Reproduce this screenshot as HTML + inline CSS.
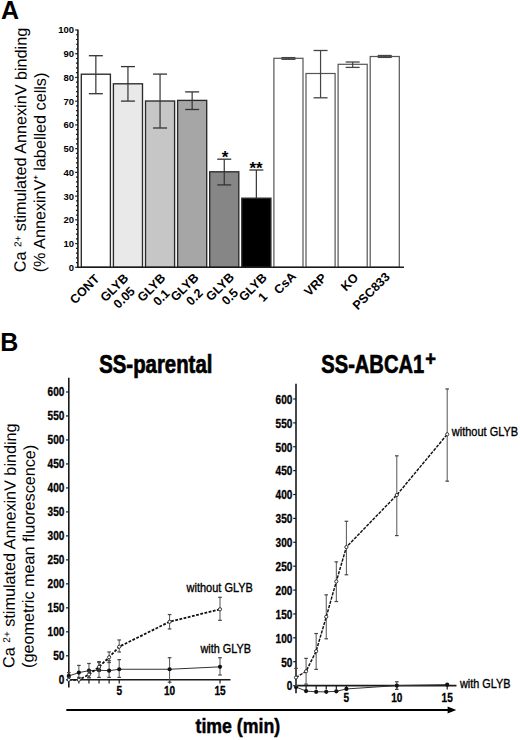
<!DOCTYPE html>
<html><head><meta charset="utf-8"><style>
html,body{margin:0;padding:0;background:#fff;}
svg{display:block;}
text{font-family:"Liberation Sans", sans-serif;fill:#000;}
</style></head><body>
<svg width="520" height="740" viewBox="0 0 520 740" font-family='"Liberation Sans", sans-serif'>
<rect width="520" height="740" fill="#fff"/>
<text x="1.0" y="18.9" font-size="25" font-weight="bold">A</text><text transform="translate(25.6,272.3) rotate(-89.75)" font-size="16.2">Ca <tspan font-size="10" dy="-4.4">2+</tspan><tspan dy="4.4"> stimulated AnnexinV binding</tspan></text><text transform="translate(44.9,272.3) rotate(-89.75)" font-size="16.2">(% AnnexinV<tspan font-size="7.5" font-weight="bold" dy="-7">+</tspan><tspan dy="7"> labelled cells)</tspan></text><line x1="77.9" y1="29.6" x2="77.9" y2="268.1" stroke="#1a1a1a" stroke-width="1.6"/><line x1="75.2" y1="267.30" x2="77.9" y2="267.30" stroke="#1a1a1a" stroke-width="1.2"/><text x="74.0" y="270.70" font-size="9.5" font-weight="bold" text-anchor="end">0</text><line x1="76.0" y1="262.55" x2="77.9" y2="262.55" stroke="#1a1a1a" stroke-width="1.2"/><line x1="76.0" y1="257.81" x2="77.9" y2="257.81" stroke="#1a1a1a" stroke-width="1.2"/><line x1="76.0" y1="253.06" x2="77.9" y2="253.06" stroke="#1a1a1a" stroke-width="1.2"/><line x1="76.0" y1="248.32" x2="77.9" y2="248.32" stroke="#1a1a1a" stroke-width="1.2"/><line x1="75.2" y1="243.57" x2="77.9" y2="243.57" stroke="#1a1a1a" stroke-width="1.2"/><text x="74.0" y="246.97" font-size="9.5" font-weight="bold" text-anchor="end">10</text><line x1="76.0" y1="238.82" x2="77.9" y2="238.82" stroke="#1a1a1a" stroke-width="1.2"/><line x1="76.0" y1="234.08" x2="77.9" y2="234.08" stroke="#1a1a1a" stroke-width="1.2"/><line x1="76.0" y1="229.33" x2="77.9" y2="229.33" stroke="#1a1a1a" stroke-width="1.2"/><line x1="76.0" y1="224.59" x2="77.9" y2="224.59" stroke="#1a1a1a" stroke-width="1.2"/><line x1="75.2" y1="219.84" x2="77.9" y2="219.84" stroke="#1a1a1a" stroke-width="1.2"/><text x="74.0" y="223.24" font-size="9.5" font-weight="bold" text-anchor="end">20</text><line x1="76.0" y1="215.09" x2="77.9" y2="215.09" stroke="#1a1a1a" stroke-width="1.2"/><line x1="76.0" y1="210.35" x2="77.9" y2="210.35" stroke="#1a1a1a" stroke-width="1.2"/><line x1="76.0" y1="205.60" x2="77.9" y2="205.60" stroke="#1a1a1a" stroke-width="1.2"/><line x1="76.0" y1="200.86" x2="77.9" y2="200.86" stroke="#1a1a1a" stroke-width="1.2"/><line x1="75.2" y1="196.11" x2="77.9" y2="196.11" stroke="#1a1a1a" stroke-width="1.2"/><text x="74.0" y="199.51" font-size="9.5" font-weight="bold" text-anchor="end">30</text><line x1="76.0" y1="191.36" x2="77.9" y2="191.36" stroke="#1a1a1a" stroke-width="1.2"/><line x1="76.0" y1="186.62" x2="77.9" y2="186.62" stroke="#1a1a1a" stroke-width="1.2"/><line x1="76.0" y1="181.87" x2="77.9" y2="181.87" stroke="#1a1a1a" stroke-width="1.2"/><line x1="76.0" y1="177.13" x2="77.9" y2="177.13" stroke="#1a1a1a" stroke-width="1.2"/><line x1="75.2" y1="172.38" x2="77.9" y2="172.38" stroke="#1a1a1a" stroke-width="1.2"/><text x="74.0" y="175.78" font-size="9.5" font-weight="bold" text-anchor="end">40</text><line x1="76.0" y1="167.63" x2="77.9" y2="167.63" stroke="#1a1a1a" stroke-width="1.2"/><line x1="76.0" y1="162.89" x2="77.9" y2="162.89" stroke="#1a1a1a" stroke-width="1.2"/><line x1="76.0" y1="158.14" x2="77.9" y2="158.14" stroke="#1a1a1a" stroke-width="1.2"/><line x1="76.0" y1="153.40" x2="77.9" y2="153.40" stroke="#1a1a1a" stroke-width="1.2"/><line x1="75.2" y1="148.65" x2="77.9" y2="148.65" stroke="#1a1a1a" stroke-width="1.2"/><text x="74.0" y="152.05" font-size="9.5" font-weight="bold" text-anchor="end">50</text><line x1="76.0" y1="143.90" x2="77.9" y2="143.90" stroke="#1a1a1a" stroke-width="1.2"/><line x1="76.0" y1="139.16" x2="77.9" y2="139.16" stroke="#1a1a1a" stroke-width="1.2"/><line x1="76.0" y1="134.41" x2="77.9" y2="134.41" stroke="#1a1a1a" stroke-width="1.2"/><line x1="76.0" y1="129.67" x2="77.9" y2="129.67" stroke="#1a1a1a" stroke-width="1.2"/><line x1="75.2" y1="124.92" x2="77.9" y2="124.92" stroke="#1a1a1a" stroke-width="1.2"/><text x="74.0" y="128.32" font-size="9.5" font-weight="bold" text-anchor="end">60</text><line x1="76.0" y1="120.17" x2="77.9" y2="120.17" stroke="#1a1a1a" stroke-width="1.2"/><line x1="76.0" y1="115.43" x2="77.9" y2="115.43" stroke="#1a1a1a" stroke-width="1.2"/><line x1="76.0" y1="110.68" x2="77.9" y2="110.68" stroke="#1a1a1a" stroke-width="1.2"/><line x1="76.0" y1="105.94" x2="77.9" y2="105.94" stroke="#1a1a1a" stroke-width="1.2"/><line x1="75.2" y1="101.19" x2="77.9" y2="101.19" stroke="#1a1a1a" stroke-width="1.2"/><text x="74.0" y="104.59" font-size="9.5" font-weight="bold" text-anchor="end">70</text><line x1="76.0" y1="96.44" x2="77.9" y2="96.44" stroke="#1a1a1a" stroke-width="1.2"/><line x1="76.0" y1="91.70" x2="77.9" y2="91.70" stroke="#1a1a1a" stroke-width="1.2"/><line x1="76.0" y1="86.95" x2="77.9" y2="86.95" stroke="#1a1a1a" stroke-width="1.2"/><line x1="76.0" y1="82.21" x2="77.9" y2="82.21" stroke="#1a1a1a" stroke-width="1.2"/><line x1="75.2" y1="77.46" x2="77.9" y2="77.46" stroke="#1a1a1a" stroke-width="1.2"/><text x="74.0" y="80.86" font-size="9.5" font-weight="bold" text-anchor="end">80</text><line x1="76.0" y1="72.71" x2="77.9" y2="72.71" stroke="#1a1a1a" stroke-width="1.2"/><line x1="76.0" y1="67.97" x2="77.9" y2="67.97" stroke="#1a1a1a" stroke-width="1.2"/><line x1="76.0" y1="63.22" x2="77.9" y2="63.22" stroke="#1a1a1a" stroke-width="1.2"/><line x1="76.0" y1="58.48" x2="77.9" y2="58.48" stroke="#1a1a1a" stroke-width="1.2"/><line x1="75.2" y1="53.73" x2="77.9" y2="53.73" stroke="#1a1a1a" stroke-width="1.2"/><text x="74.0" y="57.13" font-size="9.5" font-weight="bold" text-anchor="end">90</text><line x1="76.0" y1="48.98" x2="77.9" y2="48.98" stroke="#1a1a1a" stroke-width="1.2"/><line x1="76.0" y1="44.24" x2="77.9" y2="44.24" stroke="#1a1a1a" stroke-width="1.2"/><line x1="76.0" y1="39.49" x2="77.9" y2="39.49" stroke="#1a1a1a" stroke-width="1.2"/><line x1="76.0" y1="34.75" x2="77.9" y2="34.75" stroke="#1a1a1a" stroke-width="1.2"/><line x1="75.2" y1="30.00" x2="77.9" y2="30.00" stroke="#1a1a1a" stroke-width="1.2"/><text x="74.0" y="33.40" font-size="9.5" font-weight="bold" text-anchor="end">100</text><rect x="81.30" y="74.20" width="29.10" height="193.10" fill="#ffffff" stroke="#2a2a2a" stroke-width="1.35"/><rect x="113.40" y="83.80" width="29.10" height="183.50" fill="#e9e9e9" stroke="#2a2a2a" stroke-width="1.35"/><rect x="145.50" y="101.00" width="29.10" height="166.30" fill="#c6c6c6" stroke="#2a2a2a" stroke-width="1.35"/><rect x="177.60" y="100.40" width="29.10" height="166.90" fill="#a6a6a6" stroke="#2a2a2a" stroke-width="1.35"/><rect x="209.70" y="171.80" width="29.10" height="95.50" fill="#868686" stroke="#2a2a2a" stroke-width="1.35"/><rect x="241.80" y="198.20" width="29.10" height="69.10" fill="#000000" stroke="#2a2a2a" stroke-width="1.35"/><rect x="273.90" y="58.30" width="29.10" height="209.00" fill="#ffffff" stroke="#555" stroke-width="1.2"/><rect x="306.00" y="73.50" width="29.10" height="193.80" fill="#ffffff" stroke="#555" stroke-width="1.2"/><rect x="338.10" y="64.30" width="29.10" height="203.00" fill="#ffffff" stroke="#555" stroke-width="1.2"/><rect x="370.20" y="56.50" width="29.10" height="210.80" fill="#ffffff" stroke="#555" stroke-width="1.2"/><line x1="95.85" y1="55.7" x2="95.85" y2="93.7" stroke="#333" stroke-width="1.2"/><line x1="88.85" y1="55.7" x2="102.85" y2="55.7" stroke="#333" stroke-width="1.3"/><line x1="88.85" y1="93.7" x2="102.85" y2="93.7" stroke="#333" stroke-width="1.3"/><line x1="127.95" y1="66.6" x2="127.95" y2="101.1" stroke="#333" stroke-width="1.2"/><line x1="120.95" y1="66.6" x2="134.95" y2="66.6" stroke="#333" stroke-width="1.3"/><line x1="120.95" y1="101.1" x2="134.95" y2="101.1" stroke="#333" stroke-width="1.3"/><line x1="160.05" y1="74.1" x2="160.05" y2="128.0" stroke="#333" stroke-width="1.2"/><line x1="153.05" y1="74.1" x2="167.05" y2="74.1" stroke="#333" stroke-width="1.3"/><line x1="153.05" y1="128.0" x2="167.05" y2="128.0" stroke="#333" stroke-width="1.3"/><line x1="192.15" y1="91.9" x2="192.15" y2="109.5" stroke="#333" stroke-width="1.2"/><line x1="185.15" y1="91.9" x2="199.15" y2="91.9" stroke="#333" stroke-width="1.3"/><line x1="185.15" y1="109.5" x2="199.15" y2="109.5" stroke="#333" stroke-width="1.3"/><line x1="224.25" y1="159.2" x2="224.25" y2="184.9" stroke="#333" stroke-width="1.2"/><line x1="217.25" y1="159.2" x2="231.25" y2="159.2" stroke="#333" stroke-width="1.3"/><line x1="217.25" y1="184.9" x2="231.25" y2="184.9" stroke="#333" stroke-width="1.3"/><line x1="256.35" y1="170.0" x2="256.35" y2="198.2" stroke="#333" stroke-width="1.2"/><line x1="249.35" y1="170.0" x2="263.35" y2="170.0" stroke="#333" stroke-width="1.3"/><line x1="288.45" y1="57.6" x2="288.45" y2="59.3" stroke="#444" stroke-width="1.2"/><line x1="281.45" y1="57.6" x2="295.45" y2="57.6" stroke="#444" stroke-width="1.3"/><line x1="281.45" y1="59.3" x2="295.45" y2="59.3" stroke="#444" stroke-width="1.3"/><line x1="320.55" y1="50.5" x2="320.55" y2="97.8" stroke="#444" stroke-width="1.2"/><line x1="313.55" y1="50.5" x2="327.55" y2="50.5" stroke="#444" stroke-width="1.3"/><line x1="313.55" y1="97.8" x2="327.55" y2="97.8" stroke="#444" stroke-width="1.3"/><line x1="352.65" y1="62.0" x2="352.65" y2="67.4" stroke="#444" stroke-width="1.2"/><line x1="345.65" y1="62.0" x2="359.65" y2="62.0" stroke="#444" stroke-width="1.3"/><line x1="345.65" y1="67.4" x2="359.65" y2="67.4" stroke="#444" stroke-width="1.3"/><line x1="384.75" y1="55.5" x2="384.75" y2="57.4" stroke="#444" stroke-width="1.2"/><line x1="377.75" y1="55.5" x2="391.75" y2="55.5" stroke="#444" stroke-width="1.3"/><line x1="377.75" y1="57.4" x2="391.75" y2="57.4" stroke="#444" stroke-width="1.3"/><line x1="77.10000000000001" y1="267.3" x2="404" y2="267.3" stroke="#1a1a1a" stroke-width="1.6"/><text x="225.1" y="162.8" font-size="17" font-weight="bold" text-anchor="middle">*</text><text x="256.0" y="173.5" font-size="17" font-weight="bold" text-anchor="middle">**</text><g transform="translate(100.1,279.7) rotate(-45)" font-size="12.5" font-weight="bold"><text x="0" y="0" text-anchor="end">CONT</text></g><g transform="translate(129.15,278.85) rotate(-45)" font-size="12.5" font-weight="bold"><text x="0" y="0" text-anchor="end">GLYB</text><text x="-16.79" y="14" text-anchor="middle">0.05</text></g><g transform="translate(166.25,278.65) rotate(-45)" font-size="12.5" font-weight="bold"><text x="0" y="0" text-anchor="end">GLYB</text><text x="-16.79" y="14" text-anchor="middle">0.1</text></g><g transform="translate(199.4,278.3) rotate(-45)" font-size="12.5" font-weight="bold"><text x="0" y="0" text-anchor="end">GLYB</text><text x="-16.79" y="14" text-anchor="middle">0.2</text></g><g transform="translate(234.85,277.9) rotate(-45)" font-size="12.5" font-weight="bold"><text x="0" y="0" text-anchor="end">GLYB</text><text x="-16.79" y="14" text-anchor="middle">0.5</text></g><g transform="translate(267.65,278.3) rotate(-45)" font-size="12.5" font-weight="bold"><text x="0" y="0" text-anchor="end">GLYB</text><text x="-16.79" y="14" text-anchor="middle">1</text></g><g transform="translate(296.8,277.2) rotate(-45)" font-size="12.5" font-weight="bold"><text x="0" y="0" text-anchor="end">CsA</text></g><g transform="translate(327.5,278.65) rotate(-45)" font-size="12.5" font-weight="bold"><text x="0" y="0" text-anchor="end">VRP</text></g><g transform="translate(359.25,278.45) rotate(-45)" font-size="12.5" font-weight="bold"><text x="0" y="0" text-anchor="end">KO</text></g><g transform="translate(390.65,277.55) rotate(-45)" font-size="12.5" font-weight="bold"><text x="0" y="0" text-anchor="end">PSC833</text></g><text x="0.3" y="351.3" font-size="25" font-weight="bold">B</text><text transform="translate(14.3,667.9) rotate(-89.58)" font-size="16.2">Ca <tspan font-size="10" dy="-4.4">2+</tspan><tspan dy="4.4"> stimulated AnnexinV binding</tspan></text><text transform="translate(33.4,667.9) rotate(-89.58)" font-size="16.2">(geometric mean fluorescence)</text><text transform="translate(99.2,372.7) scale(0.815,1)" font-size="25" font-weight="bold" text-anchor="start" stroke="#000" stroke-width="0.7">SS-parental</text><text transform="translate(321.3,372.7) scale(0.805,1)" font-size="25" font-weight="bold" text-anchor="start" stroke="#000" stroke-width="0.7">SS-ABCA1</text><text transform="translate(425.2,365.6) scale(0.92,1)" font-size="20" font-weight="bold" text-anchor="start" stroke="#000" stroke-width="0.6">+</text><line x1="68.8" y1="377.7" x2="68.8" y2="687.5" stroke="#1a1a1a" stroke-width="1.6"/><line x1="66.0" y1="679.80" x2="68.8" y2="679.80" stroke="#1a1a1a" stroke-width="1.2"/><text transform="translate(64.4,684.0) scale(0.84,1)" font-size="12" font-weight="bold" text-anchor="end" stroke="#000" stroke-width="0.3">0</text><line x1="66.0" y1="655.81" x2="68.8" y2="655.81" stroke="#1a1a1a" stroke-width="1.2"/><text transform="translate(64.4,660.01) scale(0.84,1)" font-size="12" font-weight="bold" text-anchor="end" stroke="#000" stroke-width="0.3">50</text><line x1="66.0" y1="631.83" x2="68.8" y2="631.83" stroke="#1a1a1a" stroke-width="1.2"/><text transform="translate(64.4,636.03) scale(0.84,1)" font-size="12" font-weight="bold" text-anchor="end" stroke="#000" stroke-width="0.3">100</text><line x1="66.0" y1="607.84" x2="68.8" y2="607.84" stroke="#1a1a1a" stroke-width="1.2"/><text transform="translate(64.4,612.04) scale(0.84,1)" font-size="12" font-weight="bold" text-anchor="end" stroke="#000" stroke-width="0.3">150</text><line x1="66.0" y1="583.86" x2="68.8" y2="583.86" stroke="#1a1a1a" stroke-width="1.2"/><text transform="translate(64.4,588.06) scale(0.84,1)" font-size="12" font-weight="bold" text-anchor="end" stroke="#000" stroke-width="0.3">200</text><line x1="66.0" y1="559.88" x2="68.8" y2="559.88" stroke="#1a1a1a" stroke-width="1.2"/><text transform="translate(64.4,564.08) scale(0.84,1)" font-size="12" font-weight="bold" text-anchor="end" stroke="#000" stroke-width="0.3">250</text><line x1="66.0" y1="535.89" x2="68.8" y2="535.89" stroke="#1a1a1a" stroke-width="1.2"/><text transform="translate(64.4,540.09) scale(0.84,1)" font-size="12" font-weight="bold" text-anchor="end" stroke="#000" stroke-width="0.3">300</text><line x1="66.0" y1="511.90" x2="68.8" y2="511.90" stroke="#1a1a1a" stroke-width="1.2"/><text transform="translate(64.4,516.11) scale(0.84,1)" font-size="12" font-weight="bold" text-anchor="end" stroke="#000" stroke-width="0.3">350</text><line x1="66.0" y1="487.92" x2="68.8" y2="487.92" stroke="#1a1a1a" stroke-width="1.2"/><text transform="translate(64.4,492.12) scale(0.84,1)" font-size="12" font-weight="bold" text-anchor="end" stroke="#000" stroke-width="0.3">400</text><line x1="66.0" y1="463.93" x2="68.8" y2="463.93" stroke="#1a1a1a" stroke-width="1.2"/><text transform="translate(64.4,468.13) scale(0.84,1)" font-size="12" font-weight="bold" text-anchor="end" stroke="#000" stroke-width="0.3">450</text><line x1="66.0" y1="439.95" x2="68.8" y2="439.95" stroke="#1a1a1a" stroke-width="1.2"/><text transform="translate(64.4,444.15) scale(0.84,1)" font-size="12" font-weight="bold" text-anchor="end" stroke="#000" stroke-width="0.3">500</text><line x1="66.0" y1="415.96" x2="68.8" y2="415.96" stroke="#1a1a1a" stroke-width="1.2"/><text transform="translate(64.4,420.16) scale(0.84,1)" font-size="12" font-weight="bold" text-anchor="end" stroke="#000" stroke-width="0.3">550</text><line x1="66.0" y1="391.98" x2="68.8" y2="391.98" stroke="#1a1a1a" stroke-width="1.2"/><text transform="translate(64.4,396.18) scale(0.84,1)" font-size="12" font-weight="bold" text-anchor="end" stroke="#000" stroke-width="0.3">600</text><line x1="68.0" y1="679.8" x2="230.5" y2="679.8" stroke="#1a1a1a" stroke-width="1.6"/><line x1="78.88" y1="679.8" x2="78.88" y2="683.5999999999999" stroke="#1a1a1a" stroke-width="1.2"/><line x1="88.96" y1="679.8" x2="88.96" y2="683.5999999999999" stroke="#1a1a1a" stroke-width="1.2"/><line x1="99.04" y1="679.8" x2="99.04" y2="683.5999999999999" stroke="#1a1a1a" stroke-width="1.2"/><line x1="109.12" y1="679.8" x2="109.12" y2="683.5999999999999" stroke="#1a1a1a" stroke-width="1.2"/><line x1="119.20" y1="679.8" x2="119.20" y2="683.5999999999999" stroke="#1a1a1a" stroke-width="1.2"/><line x1="169.60" y1="679.8" x2="169.60" y2="683.5999999999999" stroke="#1a1a1a" stroke-width="1.2"/><line x1="220.00" y1="679.8" x2="220.00" y2="683.5999999999999" stroke="#1a1a1a" stroke-width="1.2"/><text transform="translate(119.2,694.6) scale(0.84,1)" font-size="12" font-weight="bold" text-anchor="middle" stroke="#000" stroke-width="0.3">5</text><text transform="translate(169.6,694.6) scale(0.84,1)" font-size="12" font-weight="bold" text-anchor="middle" stroke="#000" stroke-width="0.3">10</text><text transform="translate(220.0,694.6) scale(0.84,1)" font-size="12" font-weight="bold" text-anchor="middle" stroke="#000" stroke-width="0.3">15</text><line x1="68.80" y1="672.60" x2="68.80" y2="679.80" stroke="#555" stroke-width="1"/><line x1="67.00" y1="672.60" x2="70.60" y2="672.60" stroke="#444" stroke-width="1.2"/><line x1="67.00" y1="679.80" x2="70.60" y2="679.80" stroke="#444" stroke-width="1.2"/><line x1="78.88" y1="665.41" x2="78.88" y2="677.40" stroke="#555" stroke-width="1"/><line x1="77.08" y1="665.41" x2="80.68" y2="665.41" stroke="#444" stroke-width="1.2"/><line x1="77.08" y1="677.40" x2="80.68" y2="677.40" stroke="#444" stroke-width="1.2"/><line x1="88.96" y1="663.49" x2="88.96" y2="677.40" stroke="#555" stroke-width="1"/><line x1="87.16" y1="663.49" x2="90.76" y2="663.49" stroke="#444" stroke-width="1.2"/><line x1="87.16" y1="677.40" x2="90.76" y2="677.40" stroke="#444" stroke-width="1.2"/><line x1="99.04" y1="661.57" x2="99.04" y2="677.40" stroke="#555" stroke-width="1"/><line x1="97.24" y1="661.57" x2="100.84" y2="661.57" stroke="#444" stroke-width="1.2"/><line x1="97.24" y1="677.40" x2="100.84" y2="677.40" stroke="#444" stroke-width="1.2"/><line x1="109.12" y1="660.61" x2="109.12" y2="677.40" stroke="#555" stroke-width="1"/><line x1="107.32" y1="660.61" x2="110.92" y2="660.61" stroke="#444" stroke-width="1.2"/><line x1="107.32" y1="677.40" x2="110.92" y2="677.40" stroke="#444" stroke-width="1.2"/><line x1="119.20" y1="659.65" x2="119.20" y2="677.40" stroke="#555" stroke-width="1"/><line x1="117.40" y1="659.65" x2="121.00" y2="659.65" stroke="#444" stroke-width="1.2"/><line x1="117.40" y1="677.40" x2="121.00" y2="677.40" stroke="#444" stroke-width="1.2"/><line x1="169.60" y1="657.73" x2="169.60" y2="682.20" stroke="#555" stroke-width="1"/><line x1="167.80" y1="657.73" x2="171.40" y2="657.73" stroke="#444" stroke-width="1.2"/><line x1="167.80" y1="682.20" x2="171.40" y2="682.20" stroke="#444" stroke-width="1.2"/><line x1="220.00" y1="657.73" x2="220.00" y2="675.00" stroke="#555" stroke-width="1"/><line x1="218.20" y1="657.73" x2="221.80" y2="657.73" stroke="#444" stroke-width="1.2"/><line x1="218.20" y1="675.00" x2="221.80" y2="675.00" stroke="#444" stroke-width="1.2"/><path d="M68.80,675.96 L78.88,672.60 L88.96,670.69 L99.04,670.21 L109.12,670.69 L119.20,669.25 L169.60,669.25 L220.00,666.85" fill="none" stroke="#333" stroke-width="1"/><circle cx="68.80" cy="675.96" r="2.1" fill="#111"/><circle cx="78.88" cy="672.60" r="2.1" fill="#111"/><circle cx="88.96" cy="670.69" r="2.1" fill="#111"/><circle cx="99.04" cy="670.21" r="2.1" fill="#111"/><circle cx="109.12" cy="670.69" r="2.1" fill="#111"/><circle cx="119.20" cy="669.25" r="2.1" fill="#111"/><circle cx="169.60" cy="669.25" r="2.1" fill="#111"/><circle cx="220.00" cy="666.85" r="2.1" fill="#111"/><line x1="68.80" y1="677.40" x2="68.80" y2="679.80" stroke="#555" stroke-width="1"/><line x1="67.00" y1="677.40" x2="70.60" y2="677.40" stroke="#444" stroke-width="1.2"/><line x1="67.00" y1="679.80" x2="70.60" y2="679.80" stroke="#444" stroke-width="1.2"/><line x1="78.88" y1="677.88" x2="78.88" y2="679.80" stroke="#555" stroke-width="1"/><line x1="77.08" y1="677.88" x2="80.68" y2="677.88" stroke="#444" stroke-width="1.2"/><line x1="77.08" y1="679.80" x2="80.68" y2="679.80" stroke="#444" stroke-width="1.2"/><line x1="88.96" y1="671.17" x2="88.96" y2="677.88" stroke="#555" stroke-width="1"/><line x1="87.16" y1="671.17" x2="90.76" y2="671.17" stroke="#444" stroke-width="1.2"/><line x1="87.16" y1="677.88" x2="90.76" y2="677.88" stroke="#444" stroke-width="1.2"/><line x1="99.04" y1="662.53" x2="99.04" y2="671.17" stroke="#555" stroke-width="1"/><line x1="97.24" y1="662.53" x2="100.84" y2="662.53" stroke="#444" stroke-width="1.2"/><line x1="97.24" y1="671.17" x2="100.84" y2="671.17" stroke="#444" stroke-width="1.2"/><line x1="109.12" y1="651.98" x2="109.12" y2="662.53" stroke="#555" stroke-width="1"/><line x1="107.32" y1="651.98" x2="110.92" y2="651.98" stroke="#444" stroke-width="1.2"/><line x1="107.32" y1="662.53" x2="110.92" y2="662.53" stroke="#444" stroke-width="1.2"/><line x1="119.20" y1="639.98" x2="119.20" y2="651.98" stroke="#555" stroke-width="1"/><line x1="117.40" y1="639.98" x2="121.00" y2="639.98" stroke="#444" stroke-width="1.2"/><line x1="117.40" y1="651.98" x2="121.00" y2="651.98" stroke="#444" stroke-width="1.2"/><line x1="169.60" y1="614.56" x2="169.60" y2="628.95" stroke="#555" stroke-width="1"/><line x1="167.80" y1="614.56" x2="171.40" y2="614.56" stroke="#444" stroke-width="1.2"/><line x1="167.80" y1="628.95" x2="171.40" y2="628.95" stroke="#444" stroke-width="1.2"/><line x1="220.00" y1="597.29" x2="220.00" y2="620.32" stroke="#555" stroke-width="1"/><line x1="218.20" y1="597.29" x2="221.80" y2="597.29" stroke="#444" stroke-width="1.2"/><line x1="218.20" y1="620.32" x2="221.80" y2="620.32" stroke="#444" stroke-width="1.2"/><path d="M68.80,679.80 L78.88,679.80 L88.96,674.52 L99.04,666.85 L109.12,657.25 L119.20,646.70 L169.60,621.76 L220.00,609.28" fill="none" stroke="#111" stroke-width="1.8" stroke-dasharray="2.8,1.5"/><circle cx="68.80" cy="679.80" r="1.6" fill="#fff" stroke="#222" stroke-width="0.9"/><circle cx="78.88" cy="679.80" r="1.6" fill="#fff" stroke="#222" stroke-width="0.9"/><circle cx="88.96" cy="674.52" r="1.6" fill="#fff" stroke="#222" stroke-width="0.9"/><circle cx="99.04" cy="666.85" r="1.6" fill="#fff" stroke="#222" stroke-width="0.9"/><circle cx="109.12" cy="657.25" r="1.6" fill="#fff" stroke="#222" stroke-width="0.9"/><circle cx="119.20" cy="646.70" r="1.6" fill="#fff" stroke="#222" stroke-width="0.9"/><circle cx="169.60" cy="621.76" r="1.6" fill="#fff" stroke="#222" stroke-width="0.9"/><circle cx="220.00" cy="609.28" r="1.6" fill="#fff" stroke="#222" stroke-width="0.9"/><text transform="translate(186.6,591.8) scale(0.915,1)" font-size="12" font-weight="normal" text-anchor="start" stroke="#000" stroke-width="0.35">without GLYB</text><text transform="translate(200.4,653.4) scale(0.905,1)" font-size="12" font-weight="normal" text-anchor="start" stroke="#000" stroke-width="0.35">with GLYB</text><line x1="296.0" y1="383.7" x2="296.0" y2="693.2" stroke="#1a1a1a" stroke-width="1.6"/><line x1="293.2" y1="685.60" x2="296.0" y2="685.60" stroke="#1a1a1a" stroke-width="1.2"/><text transform="translate(292.4,690.4) scale(0.84,1)" font-size="12" font-weight="bold" text-anchor="end" stroke="#000" stroke-width="0.3">0</text><line x1="293.2" y1="661.72" x2="296.0" y2="661.72" stroke="#1a1a1a" stroke-width="1.2"/><text transform="translate(292.4,666.51) scale(0.84,1)" font-size="12" font-weight="bold" text-anchor="end" stroke="#000" stroke-width="0.3">50</text><line x1="293.2" y1="637.83" x2="296.0" y2="637.83" stroke="#1a1a1a" stroke-width="1.2"/><text transform="translate(292.4,642.63) scale(0.84,1)" font-size="12" font-weight="bold" text-anchor="end" stroke="#000" stroke-width="0.3">100</text><line x1="293.2" y1="613.95" x2="296.0" y2="613.95" stroke="#1a1a1a" stroke-width="1.2"/><text transform="translate(292.4,618.75) scale(0.84,1)" font-size="12" font-weight="bold" text-anchor="end" stroke="#000" stroke-width="0.3">150</text><line x1="293.2" y1="590.06" x2="296.0" y2="590.06" stroke="#1a1a1a" stroke-width="1.2"/><text transform="translate(292.4,594.86) scale(0.84,1)" font-size="12" font-weight="bold" text-anchor="end" stroke="#000" stroke-width="0.3">200</text><line x1="293.2" y1="566.18" x2="296.0" y2="566.18" stroke="#1a1a1a" stroke-width="1.2"/><text transform="translate(292.4,570.98) scale(0.84,1)" font-size="12" font-weight="bold" text-anchor="end" stroke="#000" stroke-width="0.3">250</text><line x1="293.2" y1="542.29" x2="296.0" y2="542.29" stroke="#1a1a1a" stroke-width="1.2"/><text transform="translate(292.4,547.09) scale(0.84,1)" font-size="12" font-weight="bold" text-anchor="end" stroke="#000" stroke-width="0.3">300</text><line x1="293.2" y1="518.40" x2="296.0" y2="518.40" stroke="#1a1a1a" stroke-width="1.2"/><text transform="translate(292.4,523.2) scale(0.84,1)" font-size="12" font-weight="bold" text-anchor="end" stroke="#000" stroke-width="0.3">350</text><line x1="293.2" y1="494.52" x2="296.0" y2="494.52" stroke="#1a1a1a" stroke-width="1.2"/><text transform="translate(292.4,499.32) scale(0.84,1)" font-size="12" font-weight="bold" text-anchor="end" stroke="#000" stroke-width="0.3">400</text><line x1="293.2" y1="470.63" x2="296.0" y2="470.63" stroke="#1a1a1a" stroke-width="1.2"/><text transform="translate(292.4,475.44) scale(0.84,1)" font-size="12" font-weight="bold" text-anchor="end" stroke="#000" stroke-width="0.3">450</text><line x1="293.2" y1="446.75" x2="296.0" y2="446.75" stroke="#1a1a1a" stroke-width="1.2"/><text transform="translate(292.4,451.55) scale(0.84,1)" font-size="12" font-weight="bold" text-anchor="end" stroke="#000" stroke-width="0.3">500</text><line x1="293.2" y1="422.87" x2="296.0" y2="422.87" stroke="#1a1a1a" stroke-width="1.2"/><text transform="translate(292.4,427.67) scale(0.84,1)" font-size="12" font-weight="bold" text-anchor="end" stroke="#000" stroke-width="0.3">550</text><line x1="293.2" y1="398.98" x2="296.0" y2="398.98" stroke="#1a1a1a" stroke-width="1.2"/><text transform="translate(292.4,403.78) scale(0.84,1)" font-size="12" font-weight="bold" text-anchor="end" stroke="#000" stroke-width="0.3">600</text><line x1="295.2" y1="685.6" x2="456.5" y2="685.6" stroke="#1a1a1a" stroke-width="1.6"/><line x1="306.08" y1="685.6" x2="306.08" y2="689.4" stroke="#1a1a1a" stroke-width="1.2"/><line x1="316.16" y1="685.6" x2="316.16" y2="689.4" stroke="#1a1a1a" stroke-width="1.2"/><line x1="326.24" y1="685.6" x2="326.24" y2="689.4" stroke="#1a1a1a" stroke-width="1.2"/><line x1="336.32" y1="685.6" x2="336.32" y2="689.4" stroke="#1a1a1a" stroke-width="1.2"/><line x1="346.40" y1="685.6" x2="346.40" y2="689.4" stroke="#1a1a1a" stroke-width="1.2"/><line x1="396.80" y1="685.6" x2="396.80" y2="689.4" stroke="#1a1a1a" stroke-width="1.2"/><line x1="447.20" y1="685.6" x2="447.20" y2="689.4" stroke="#1a1a1a" stroke-width="1.2"/><text transform="translate(346.4,701.6) scale(0.84,1)" font-size="12" font-weight="bold" text-anchor="middle" stroke="#000" stroke-width="0.3">5</text><text transform="translate(396.8,701.6) scale(0.84,1)" font-size="12" font-weight="bold" text-anchor="middle" stroke="#000" stroke-width="0.3">10</text><text transform="translate(447.2,701.6) scale(0.84,1)" font-size="12" font-weight="bold" text-anchor="middle" stroke="#000" stroke-width="0.3">15</text><line x1="396.80" y1="681.78" x2="396.80" y2="689.42" stroke="#555" stroke-width="1"/><line x1="395.00" y1="681.78" x2="398.60" y2="681.78" stroke="#444" stroke-width="1.2"/><line x1="395.00" y1="689.42" x2="398.60" y2="689.42" stroke="#444" stroke-width="1.2"/><path d="M296.00,687.03 L306.08,691.09 L316.16,691.81 L326.24,691.81 L336.32,691.33 L346.40,688.94 L396.80,685.60 L447.20,684.64" fill="none" stroke="#333" stroke-width="1"/><circle cx="296.00" cy="687.03" r="2.1" fill="#111"/><circle cx="306.08" cy="691.09" r="2.1" fill="#111"/><circle cx="316.16" cy="691.81" r="2.1" fill="#111"/><circle cx="326.24" cy="691.81" r="2.1" fill="#111"/><circle cx="336.32" cy="691.33" r="2.1" fill="#111"/><circle cx="346.40" cy="688.94" r="2.1" fill="#111"/><circle cx="396.80" cy="685.60" r="2.1" fill="#111"/><circle cx="447.20" cy="684.64" r="2.1" fill="#111"/><line x1="296.00" y1="668.40" x2="296.00" y2="685.60" stroke="#555" stroke-width="1"/><line x1="294.20" y1="668.40" x2="297.80" y2="668.40" stroke="#444" stroke-width="1.2"/><line x1="294.20" y1="685.60" x2="297.80" y2="685.60" stroke="#444" stroke-width="1.2"/><line x1="306.08" y1="658.37" x2="306.08" y2="684.17" stroke="#555" stroke-width="1"/><line x1="304.28" y1="658.37" x2="307.88" y2="658.37" stroke="#444" stroke-width="1.2"/><line x1="304.28" y1="684.17" x2="307.88" y2="684.17" stroke="#444" stroke-width="1.2"/><line x1="316.16" y1="633.53" x2="316.16" y2="669.36" stroke="#555" stroke-width="1"/><line x1="314.36" y1="633.53" x2="317.96" y2="633.53" stroke="#444" stroke-width="1.2"/><line x1="314.36" y1="669.36" x2="317.96" y2="669.36" stroke="#444" stroke-width="1.2"/><line x1="326.24" y1="594.84" x2="326.24" y2="638.79" stroke="#555" stroke-width="1"/><line x1="324.44" y1="594.84" x2="328.04" y2="594.84" stroke="#444" stroke-width="1.2"/><line x1="324.44" y1="638.79" x2="328.04" y2="638.79" stroke="#444" stroke-width="1.2"/><line x1="336.32" y1="561.88" x2="336.32" y2="601.52" stroke="#555" stroke-width="1"/><line x1="334.52" y1="561.88" x2="338.12" y2="561.88" stroke="#444" stroke-width="1.2"/><line x1="334.52" y1="601.52" x2="338.12" y2="601.52" stroke="#444" stroke-width="1.2"/><line x1="346.40" y1="521.27" x2="346.40" y2="574.77" stroke="#555" stroke-width="1"/><line x1="344.60" y1="521.27" x2="348.20" y2="521.27" stroke="#444" stroke-width="1.2"/><line x1="344.60" y1="574.77" x2="348.20" y2="574.77" stroke="#444" stroke-width="1.2"/><line x1="396.80" y1="455.83" x2="396.80" y2="535.60" stroke="#555" stroke-width="1"/><line x1="395.00" y1="455.83" x2="398.60" y2="455.83" stroke="#444" stroke-width="1.2"/><line x1="395.00" y1="535.60" x2="398.60" y2="535.60" stroke="#444" stroke-width="1.2"/><line x1="447.20" y1="388.95" x2="447.20" y2="481.14" stroke="#555" stroke-width="1"/><line x1="445.40" y1="388.95" x2="449.00" y2="388.95" stroke="#444" stroke-width="1.2"/><line x1="445.40" y1="481.14" x2="449.00" y2="481.14" stroke="#444" stroke-width="1.2"/><path d="M296.00,677.48 L306.08,671.27 L316.16,651.21 L326.24,616.81 L336.32,581.46 L346.40,547.07 L396.80,495.00 L447.20,434.33" fill="none" stroke="#111" stroke-width="1.45" stroke-dasharray="3.2,1.2"/><circle cx="296.00" cy="677.48" r="1.6" fill="#fff" stroke="#222" stroke-width="0.9"/><circle cx="306.08" cy="671.27" r="1.6" fill="#fff" stroke="#222" stroke-width="0.9"/><circle cx="316.16" cy="651.21" r="1.6" fill="#fff" stroke="#222" stroke-width="0.9"/><circle cx="326.24" cy="616.81" r="1.6" fill="#fff" stroke="#222" stroke-width="0.9"/><circle cx="336.32" cy="581.46" r="1.6" fill="#fff" stroke="#222" stroke-width="0.9"/><circle cx="346.40" cy="547.07" r="1.6" fill="#fff" stroke="#222" stroke-width="0.9"/><circle cx="396.80" cy="495.00" r="1.6" fill="#fff" stroke="#222" stroke-width="0.9"/><circle cx="447.20" cy="434.33" r="1.6" fill="#fff" stroke="#222" stroke-width="0.9"/><text transform="translate(451.8,436.0) scale(0.915,1)" font-size="12" font-weight="normal" text-anchor="start" stroke="#000" stroke-width="0.35">without GLYB</text><text transform="translate(460.0,687.6) scale(0.905,1)" font-size="12" font-weight="normal" text-anchor="start" stroke="#000" stroke-width="0.35">with GLYB</text><line x1="66.3" y1="710" x2="449" y2="710" stroke="#000" stroke-width="2"/><path d="M447.6,706.4 L456.3,710 L447.6,713.6 Z" fill="#000"/><text transform="translate(195.5,733.0) scale(0.844,1)" font-size="21" font-weight="bold" text-anchor="start" stroke="#000" stroke-width="0.5">time (min)</text>
</svg>
</body></html>
